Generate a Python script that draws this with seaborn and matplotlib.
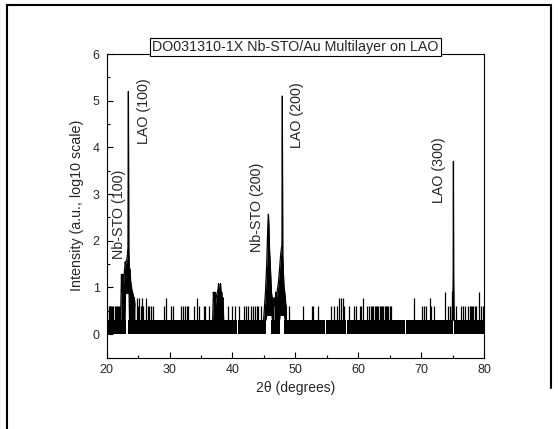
import numpy as np
import pandas as pd
import seaborn as sns
import matplotlib.pyplot as plt
from matplotlib.lines import Line2D
from matplotlib.ticker import MultipleLocator

# log10 count levels of the background noise (1 and 2 counts)
band_low = 0.0
band_high = 0.301
scan_range = (20, 80)
# zero-count stretches where the noise band is broken
band_gaps = [(23.0, 23.4), (40.72, 40.82), (45.4, 46.2), (47.56, 48.2),
             (54.78, 54.88), (58.12, 58.22), (67.5, 67.6), (75.08, 75.17)]

# isolated single-channel spikes above the band
spike_x = [20.1, 20.3, 20.45, 20.6, 20.75, 20.9, 21.05, 21.3, 21.45, 21.6, 21.75, 21.9, 22.05,
           24.8, 25.0, 25.2, 25.4, 25.6, 25.8, 26.2, 26.5, 26.8, 27.0, 27.3,
           29.1, 29.4, 30.2, 30.6, 31.8, 32.1, 32.4, 32.7, 33.0, 33.9, 34.3, 34.6,
           35.4, 35.6, 36.2, 39.3, 39.9, 40.4, 41.1, 41.8, 42.2, 42.5, 42.9, 43.3,
           43.6, 43.9, 44.1, 44.5, 49.0, 51.2, 52.6, 52.8, 53.6,
           55.6, 56.1, 56.6, 56.9, 57.2, 57.5, 57.7, 58.5, 59.3, 59.7, 60.3, 60.5, 60.8,
           61.4, 61.7, 62.0, 62.2, 62.4, 62.6, 62.8, 63.0, 63.2, 63.4, 63.6, 63.8,
           64.0, 64.2, 64.4, 64.6, 64.8, 65.0, 65.15,
           68.8, 70.1, 70.5, 70.8, 71.4, 71.6, 72.0, 73.8, 74.3, 74.6, 74.85,
           75.6, 76.4, 76.7, 77.0, 77.5, 77.7, 77.9, 78.1, 78.3, 78.5, 78.7,
           79.2, 79.6, 79.8, 79.95]
spike_y = [0.6, 0.6, 0.6, 0.6, 0.6, 0.6, 0.6, 0.6, 0.6, 0.6, 0.6, 0.6, 0.6,
           0.78, 0.6, 0.78, 0.6, 0.78, 0.6, 0.78, 0.6, 0.6, 0.6, 0.6,
           0.6, 0.78, 0.6, 0.6, 0.6, 0.6, 0.6, 0.6, 0.6, 0.6, 0.78, 0.6,
           0.6, 0.6, 0.6, 0.6, 0.6, 0.6, 0.6, 0.6, 0.6, 0.6, 0.6, 0.6,
           0.6, 0.6, 0.6, 0.6, 0.6, 0.6, 0.6, 0.6, 0.6,
           0.6, 0.6, 0.6, 0.78, 0.78, 0.78, 0.6, 0.6, 0.6, 0.6, 0.6, 0.6, 0.78,
           0.6, 0.6, 0.6, 0.6, 0.6, 0.6, 0.6, 0.6, 0.6, 0.6, 0.6, 0.6,
           0.6, 0.6, 0.6, 0.6, 0.6, 0.6, 0.6,
           0.78, 0.6, 0.6, 0.6, 0.78, 0.6, 0.6, 0.9, 0.6, 0.6, 0.6,
           0.6, 0.6, 0.6, 0.6, 0.6, 0.6, 0.6, 0.6, 0.6, 0.6, 0.6,
           0.9, 0.6, 0.6, 0.6]

# peak regions: upper and lower envelope of the oscillating trace
nbsto100_x = [22.25, 22.35, 22.42, 22.5, 22.58, 22.66, 22.75, 22.85, 22.95, 23.0, 23.1, 23.2,
              23.3, 23.38, 23.45, 23.52, 23.6, 23.7, 23.8, 23.9, 24.0, 24.1, 24.2, 24.3, 24.4, 24.5]
nbsto100_top = [0.6, 1.28, 0.9, 1.0, 1.28, 1.05, 1.2, 1.4, 1.55, 1.5, 1.55, 1.6,
                1.7, 1.85, 5.2, 1.8, 1.4, 1.4, 1.15, 1.05, 0.95, 0.9, 0.85, 0.78, 0.78, 0.6]
nbsto100_low = [0.3, 0.3, 0.3, 0.3, 0.3, 0.3, 0.3, 0.3, 0.3, 0.87, 0.87, 0.87,
                0.87, 0.87, 0.3, 0.3, 0.3, 0.3, 0.3, 0.3, 0.3, 0.3, 0.3, 0.3, 0.3, 0.3]

hump_x = [36.85, 36.97, 37.05, 37.15, 37.23, 37.32, 37.4, 37.5, 37.6, 37.7, 37.8, 37.9,
          38.0, 38.1, 38.2, 38.3, 38.4, 38.5, 38.6]
hump_top = [0.3, 0.9, 0.7, 0.78, 0.9, 0.6, 0.78, 0.85, 0.9, 0.95, 1.08, 0.85,
            0.9, 1.08, 0.85, 0.9, 0.7, 0.78, 0.3]
hump_low = [0.3] * len(hump_x)

nbsto200_x = [44.95, 45.1, 45.25, 45.35, 45.45, 45.55, 45.65, 45.72, 45.8, 45.9, 46.0, 46.1,
              46.2, 46.3, 46.45, 46.55]
nbsto200_top = [0.3, 0.6, 0.9, 1.2, 1.5, 2.0, 2.4, 2.57, 2.3, 1.8, 1.5, 1.2,
                0.9, 0.78, 0.78, 0.6]
nbsto200_low = [0.3, 0.3, 0.3, 0.3, 0.4, 0.4, 0.4, 0.4, 0.4, 0.4, 0.4, 0.4,
                0.3, 0.3, 0.3, 0.3]

lao200_x = [46.6, 46.7, 46.8, 46.9, 47.0, 47.1, 47.2, 47.3, 47.4, 47.5, 47.6, 47.7,
            47.8, 47.87, 47.93, 48.0, 48.1, 48.2, 48.3, 48.4, 48.5, 48.6]
lao200_top = [0.6, 0.78, 0.6, 0.9, 0.78, 0.9, 1.0, 1.1, 1.25, 1.4, 1.6, 1.75,
              1.85, 1.9, 5.1, 1.7, 1.3, 1.0, 0.9, 0.78, 0.6, 0.6]
lao200_low = [0.3, 0.3, 0.3, 0.3, 0.3, 0.3, 0.3, 0.3, 0.3, 0.3, 0.4, 0.4,
              0.4, 0.4, 0.4, 0.4, 0.4, 0.3, 0.3, 0.3, 0.3, 0.3]

lao300_x = [74.95, 75.0, 75.05, 75.1, 75.14, 75.18, 75.25]
lao300_top = [0.3, 0.9, 0.5, 1.4, 3.7, 1.2, 0.3]
lao300_low = [0.3, 0.3, 0.3, 0.3, 0.3, 0.3, 0.3]

peak_labels = ["Nb-STO (100)", "LAO (100)", "Nb-STO (200)", "LAO (200)", "LAO (300)"]
label_x = [21.97, 25.94, 43.9, 50.27, 72.8]
label_y = [1.62, 4.08, 1.76, 3.98, 2.8]

title = "DO031310-1X Nb-STO/Au Multilayer on LAO"

sns.set_theme(style="ticks")
plt.rcParams['font.family'] = ['Liberation Sans', 'DejaVu Sans']

fig = plt.figure(figsize=(5.58, 4.29), dpi=100)
ax = fig.add_axes([106.7 / 558, 1 - 357.5 / 429, (484 - 106.7) / 558, (357.5 - 54) / 429])

# noise band between the breaks
edges = [scan_range[0]]
for a, b in band_gaps:
    edges += [a, b]
edges.append(scan_range[1])
for a, b in zip(edges[::2], edges[1::2]):
    ax.fill_between([a, b], [band_low, band_low], [band_high, band_high], color="black", lw=0)

ax.vlines(spike_x, band_high, spike_y, color="black", lw=0.9)

peaks = [(nbsto100_x, nbsto100_top, nbsto100_low), (hump_x, hump_top, hump_low),
         (nbsto200_x, nbsto200_top, nbsto200_low), (lao200_x, lao200_top, lao200_low),
         (lao300_x, lao300_top, lao300_low)]
for px, ptop, plow in peaks:
    ax.fill_between(px, plow, ptop, color="black", lw=0)
    df = pd.DataFrame({"two_theta": px, "log_intensity": ptop})
    sns.lineplot(data=df, x="two_theta", y="log_intensity", color="black", lw=0.9,
                 estimator=None, ax=ax)

for txt, tx, ty in zip(peak_labels, label_x, label_y):
    ax.text(tx, ty, txt, rotation=90, ha="center", va="bottom", fontsize=10.3)

ax.set_xlim(20, 80)
ax.set_ylim(-0.5, 6)
ax.xaxis.set_major_locator(MultipleLocator(10))
ax.xaxis.set_minor_locator(MultipleLocator(5))
ax.yaxis.set_major_locator(MultipleLocator(1))
ax.yaxis.set_minor_locator(MultipleLocator(0.5))
ax.tick_params(which="both", direction="in", color="black", width=0.8, labelsize=9, pad=5)
ax.tick_params(which="major", length=4)
ax.tick_params(which="minor", length=2.2)
for sp in ax.spines.values():
    sp.set_visible(True)
    sp.set_color("black")
    sp.set_linewidth(0.8)
ax.set_xlabel("2θ (degrees)", fontsize=10, labelpad=3)
ax.set_ylabel("Intensity (a.u., log10 scale)", fontsize=10.3, labelpad=6)

ax.text(0.5, 1.0, title, transform=ax.transAxes, ha="center", va="bottom", fontsize=10.3,
        bbox=dict(facecolor="white", edgecolor="black", lw=0.8, boxstyle="square,pad=0.15"))

# page frame
fig.add_artist(Line2D([7.3 / 558, 7.3 / 558], [0, 1 - 5 / 429], color="black", lw=1.5,
                      transform=fig.transFigure))
fig.add_artist(Line2D([7.3 / 558, 551 / 558], [1 - 5 / 429, 1 - 5 / 429], color="black", lw=1.5,
                      transform=fig.transFigure))
fig.add_artist(Line2D([551 / 558, 551 / 558], [1 - 5 / 429, 1 - 388 / 429], color="black", lw=1.5,
                      transform=fig.transFigure))

fig.savefig("out.png", dpi=100)
